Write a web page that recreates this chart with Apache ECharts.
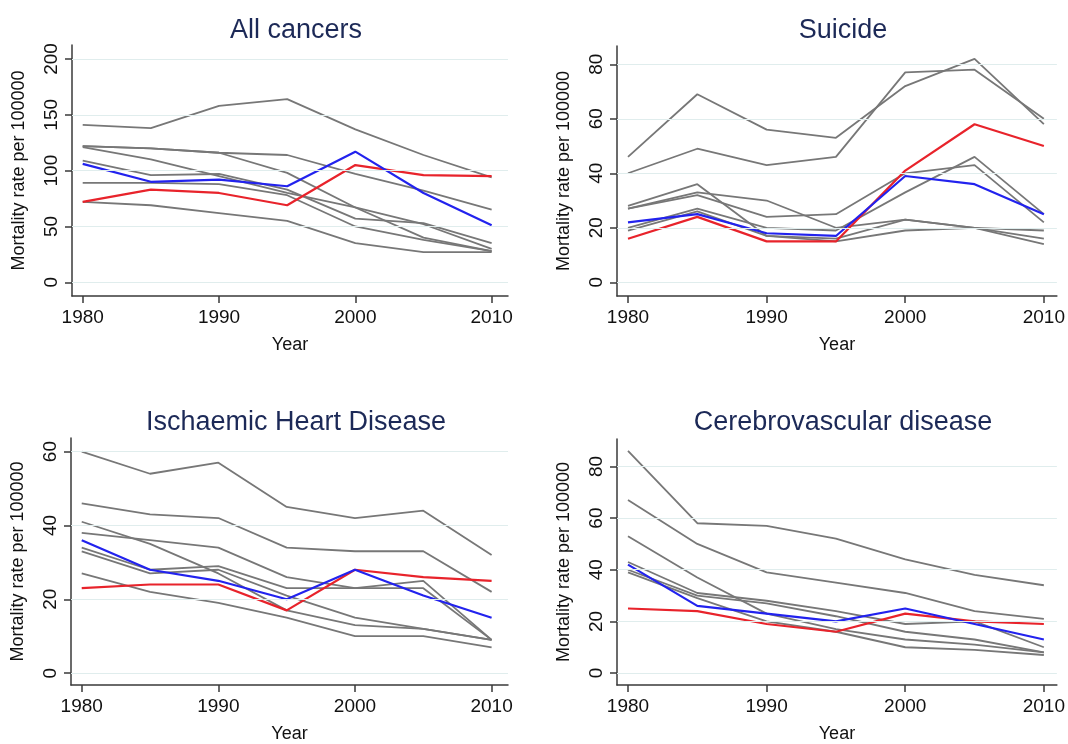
<!DOCTYPE html>
<html>
<head>
<meta charset="utf-8">
<script src="https://cdn.jsdelivr.net/npm/echarts@6/dist/echarts.min.js"></script>
<style>
html,body{margin:0;padding:0;background:#fff;}
#c{width:1068px;height:744px;}
</style>
</head>
<body>
<div id="c"></div>
<script>
const years = [1980, 1985, 1990, 1995, 2000, 2005, 2010];
const xTicks = [1980, 1990, 2000, 2010];

const titles = ['All cancers', 'Suicide', 'Ischaemic Heart Disease', 'Cerebrovascular disease'];
const yTicksCancer = [0, 50, 100, 150, 200];
const yTicksSuicide = [0, 20, 40, 60, 80];
const yTicksIHD = [0, 20, 40, 60];
const yTicksCVD = [0, 20, 40, 60, 80];

const cancerRed = [72, 83, 80, 69, 105, 96, 95];
const cancerBlue = [106, 90, 92, 86, 117, 80, 51];
const cancerGrey = [
  [141, 138, 158, 164, 137, 114, 94],
  [122, 120, 116, 114, 97, 82, 65],
  [122, 120, 116, 98, 67, 52, 30],
  [121, 110, 95, 80, 67, 40, 28],
  [109, 96, 97, 83, 57, 53, 35],
  [89, 89, 88, 78, 50, 38, 28],
  [72, 69, 62, 55, 35, 27, 27]
];

const suicideRed = [16, 24, 15, 15, 41, 58, 50];
const suicideBlue = [22, 25, 18, 17, 39, 36, 25];
const suicideGrey = [
  [46, 69, 56, 53, 72, 82, 58],
  [40, 49, 43, 46, 77, 78, 60],
  [28, 36, 17, 16, 23, 20, 16],
  [27, 33, 30, 20, 23, 20, 14],
  [27, 32, 24, 25, 40, 43, 22],
  [20, 27, 20, 19, 33, 46, 25],
  [19, 26, 17, 15, 19, 20, 19]
];

const ihdRed = [23, 24, 24, 17, 28, 26, 25];
const ihdBlue = [36, 28, 25, 20, 28, 21, 15];
const ihdGrey = [
  [60, 54, 57, 45, 42, 44, 32],
  [46, 43, 42, 34, 33, 33, 22],
  [41, 35, 27, 17, 13, 12, 9],
  [38, 36, 34, 26, 23, 25, 9],
  [34, 28, 29, 23, 23, 23, 9],
  [33, 27, 28, 21, 15, 12, 9],
  [27, 22, 19, 15, 10, 10, 7]
];

const cvdRed = [25, 24, 19, 16, 23, 20, 19];
const cvdBlue = [42, 26, 23, 20, 25, 19, 13];
const cvdGrey = [
  [86, 58, 57, 52, 44, 38, 34],
  [67, 50, 39, 35, 31, 24, 21],
  [53, 37, 23, 17, 13, 11, 8],
  [43, 31, 28, 24, 19, 20, 10],
  [40, 30, 27, 22, 16, 13, 8],
  [39, 29, 20, 16, 10, 9, 7]
];

const panels = [
  {title: titles[0], red: cancerRed, blue: cancerBlue, grey: cancerGrey, yTicks: yTicksCancer,
   grid: {left: 72, top: 45, width: 436, height: 251}, xr: [1979.215, 2011.2], yr: [-12.27, 212.5], tx: 291, ty: 12},
  {title: titles[1], red: suicideRed, blue: suicideBlue, grey: suicideGrey, yTicks: yTicksSuicide,
   grid: {left: 617, top: 46, width: 440, height: 250}, xr: [1979.207, 2010.94], yr: [-5.03, 86.7], tx: 838, ty: 12},
  {title: titles[2], red: ihdRed, blue: ihdBlue, grey: ihdGrey, yTicks: yTicksIHD,
   grid: {left: 71, top: 438, width: 437, height: 249}, xr: [1979.215, 2011.2], yr: [-3.22, 63.68], tx: 291, ty: 404},
  {title: titles[3], red: cvdRed, blue: cvdBlue, grey: cvdGrey, yTicks: yTicksCVD,
   grid: {left: 617, top: 439, width: 440, height: 248}, xr: [1979.207, 2010.94], yr: [-4.61, 90.6], tx: 838, ty: 404}
];

const FONT = 'Liberation Sans, Arial, Helvetica, sans-serif';
const axisColor = '#3a3a3a';
const pairs = vals => years.map((y, i) => [y, vals[i]]);

const option = {
  backgroundColor: '#ffffff',
  animation: false,
  title: [], grid: [], xAxis: [], yAxis: [], series: []
};

panels.forEach((p, k) => {
  option.title.push({
    text: p.title, left: p.tx, top: p.ty, textAlign: 'center',
    textStyle: {fontFamily: FONT, fontSize: 27, fontWeight: 'normal', color: '#1c2957'}
  });
  option.grid.push(Object.assign({containLabel: false}, p.grid));
  option.xAxis.push({
    type: 'value', gridIndex: k, min: p.xr[0], max: p.xr[1],
    name: 'Year', nameLocation: 'middle', nameGap: 40,
    nameTextStyle: {fontFamily: FONT, fontSize: 18, color: '#111'},
    axisLine: {show: true, onZero: false, lineStyle: {color: axisColor, width: 1.5}},
    axisTick: {show: true, length: 7, customValues: xTicks, lineStyle: {color: axisColor, width: 1.5}},
    axisLabel: {customValues: xTicks, margin: 12, fontFamily: FONT, fontSize: 19, color: '#111',
                formatter: v => String(v)},
    splitLine: {show: false}
  });
  option.yAxis.push({
    type: 'value', gridIndex: k, min: p.yr[0], max: p.yr[1],
    name: 'Mortality rate per 100000', nameLocation: 'middle', nameGap: 44,
    nameTextStyle: {fontFamily: FONT, fontSize: 18, color: '#111'},
    axisLine: {show: true, onZero: false, lineStyle: {color: axisColor, width: 1.5}},
    axisTick: {show: true, length: 7, customValues: p.yTicks, lineStyle: {color: axisColor, width: 1.5}},
    axisLabel: {customValues: p.yTicks, rotate: 90, margin: 11, fontFamily: FONT, fontSize: 19, color: '#111',
                formatter: v => String(v)},
    splitLine: {show: false}
  });
  option.series.push({
    type: 'line', xAxisIndex: k, yAxisIndex: k, data: [], silent: true,
    markLine: {
      silent: true, symbol: 'none', label: {show: false},
      lineStyle: {color: '#e0eded', width: 1.2, type: 'solid'},
      data: p.yTicks.map(v => ({yAxis: v}))
    }
  });
  p.grey.forEach(g => {
    option.series.push({
      type: 'line', xAxisIndex: k, yAxisIndex: k, data: pairs(g),
      showSymbol: false, silent: true,
      lineStyle: {color: '#777777', width: 1.8}
    });
  });
  option.series.push({
    type: 'line', xAxisIndex: k, yAxisIndex: k, data: pairs(p.red),
    showSymbol: false, silent: true, lineStyle: {color: '#e8232b', width: 2.2}
  });
  option.series.push({
    type: 'line', xAxisIndex: k, yAxisIndex: k, data: pairs(p.blue),
    showSymbol: false, silent: true, lineStyle: {color: '#2222ee', width: 2.2}
  });
});

const chart = echarts.init(document.getElementById('c'), null, {renderer: 'canvas'});
chart.setOption(option);
</script>
</body>
</html>
